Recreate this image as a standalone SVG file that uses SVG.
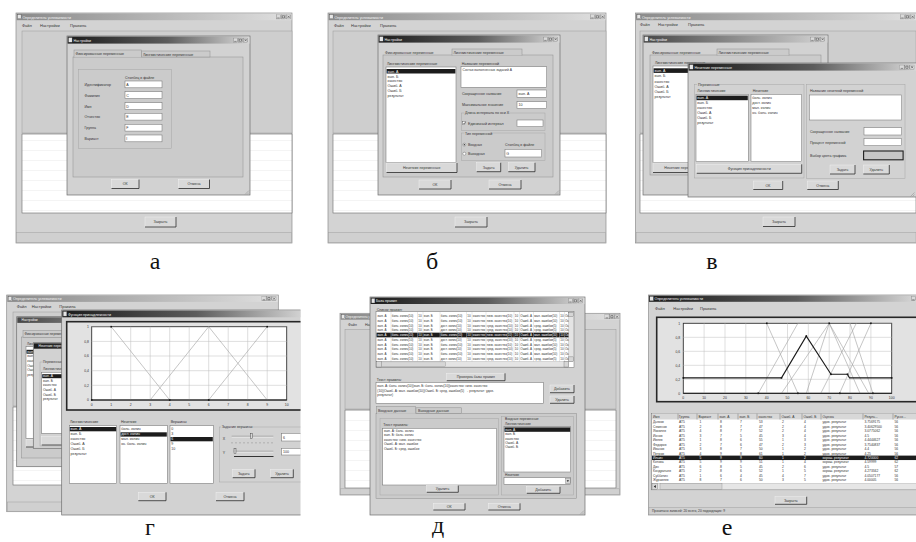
<svg xmlns="http://www.w3.org/2000/svg" width="916" height="542" viewBox="0 0 916 542">
<defs>
 <linearGradient id="gAct" x1="0" x2="1" y1="0" y2="0">
  <stop offset="0" stop-color="#1c1c1c"/><stop offset=".55" stop-color="#5c5c5c"/><stop offset="1" stop-color="#d8d8d8"/>
 </linearGradient>
 <linearGradient id="gIna" x1="0" x2="1" y1="0" y2="0">
  <stop offset="0" stop-color="#8a8a8a"/><stop offset="1" stop-color="#e0e0e0"/>
 </linearGradient>
 <linearGradient id="gMid" x1="0" x2="1" y1="0" y2="0">
  <stop offset="0" stop-color="#474747"/><stop offset="1" stop-color="#d4d4d4"/>
 </linearGradient>
 <pattern id="rows" width="10" height="10" patternUnits="userSpaceOnUse">
  <rect width="10" height="10" fill="#fff"/><path d="M0 .25H10" stroke="#e2e2e2" stroke-width=".5"/>
 </pattern>
 <!-- minimise / maximise / close caption buttons -->
 <symbol id="ctl" viewBox="0 0 15 5">
  <rect x=".2" y=".2" width="4.4" height="4.4" fill="#dadada" stroke="#555" stroke-width=".3"/>
  <rect x="5.2" y=".2" width="4.4" height="4.4" fill="#dadada" stroke="#555" stroke-width=".3"/>
  <rect x="10.4" y=".2" width="4.4" height="4.4" fill="#dadada" stroke="#555" stroke-width=".3"/>
  <path d="M1.2 3.6h2.4M6.3 1.3h2.2v2.2h-2.2zM11.5 1.3l2.2 2.2M13.7 1.3l-2.2 2.2" stroke="#222" stroke-width=".45" fill="none"/>
 </symbol>
 <clipPath id="clipG"><rect x="0" y="290" width="300.5" height="252"/></clipPath>
 <clipPath id="clipR"><rect x="376.5" y="312.2" width="192.3" height="49.3"/></clipPath>
 <clipPath id="clipE"><rect x="648" y="290" width="268" height="230"/></clipPath>
 <!-- one line of the rule list, fill comes from the <use> -->
 <g id="ruleA">
  <text style="fill:inherit;font-size:3px"><tspan x="377.5">вып. А</tspan><tspan x="391.8">боль. колич(10)</tspan><tspan x="418.3">10</tspan><tspan x="423.8">вып. Б</tspan><tspan x="440.8">боль. колич(10)</tspan><tspan x="467.3">10</tspan><tspan x="472.8">качество</tspan><tspan x="486.8">низк. качество(10)</tspan><tspan x="514.8">10</tspan><tspan x="520.3">Ошиб. А</tspan><tspan x="534.3">мал. ошибки(10)</tspan><tspan x="560.3">10</tspan><tspan x="565">Ошиб. Б</tspan></text>
 </g>
 <g id="ruleB">
  <text style="fill:inherit;font-size:3px"><tspan x="377.5">вып. А</tspan><tspan x="391.8">боль. колич(10)</tspan><tspan x="418.3">10</tspan><tspan x="423.8">вып. Б</tspan><tspan x="440.8">дост. колич(10)</tspan><tspan x="467.3">10</tspan><tspan x="472.8">качество</tspan><tspan x="486.8">сред. качество(10)</tspan><tspan x="514.8">10</tspan><tspan x="520.3">Ошиб. А</tspan><tspan x="534.3">сред. ошибки(5)</tspan><tspan x="560.3">10</tspan><tspan x="565">Ошиб. Б</tspan></text>
 </g>
</defs>
<style>
 text{font-family:"Liberation Sans",Arial,"DejaVu Sans",sans-serif;font-size:4px;fill:#333}
 .cap{font-family:"Liberation Serif","Times New Roman",serif;font-size:24px;fill:#111;text-anchor:middle}
 .w{fill:#f4f4f4}
 .s3{font-size:3.3px}
 .s35{font-size:3.6px}
 .mw{fill:#d3d3d3;stroke:#8c8c8c;stroke-width:.7}
 .dlg{fill:#d2d2d2;stroke:#6e6e6e;stroke-width:.7}
 .pg{fill:#cbcbcb;stroke:#8e8e8e;stroke-width:.5}
 .tabA{fill:#cbcbcb;stroke:#8e8e8e;stroke-width:.5}
 .ar{fill:#cecece;stroke:#9c9c9c;stroke-width:.5}
 .lst{fill:url(#rows);stroke:#6a6a6a;stroke-width:.6}
 .tb{fill:#fff;stroke:#777;stroke-width:.55}
 .grp{fill:none;stroke:#a6a6a6;stroke-width:.5}
 .sel{fill:#1c1c1c}
 .ico{fill:#e6e6e6;stroke:#444;stroke-width:.3}
 .bt rect{fill:#d9d9d9;stroke:#f0f0f0;stroke-width:.5}
 .bt path{fill:none;stroke:#262626;stroke-width:.8}
 .bt text{text-anchor:middle;font-size:3.6px}
 .st{fill:#d0d0d0;stroke:#a0a0a0;stroke-width:.5}
 .plot{fill:#fff;stroke:#333;stroke-width:.9}
 .frm{fill:#e2e2e2;stroke:#262626;stroke-width:1.6}
 .gl{stroke:#bdbdbd;stroke-width:.5;fill:none}
 .mf{stroke:#a0a0a0;stroke-width:.6;fill:none}
 .cell{stroke:#c4c4c4;stroke-width:.4}
 .grip{stroke:#8a8a8a;stroke-width:.5;fill:none}
 .ya{font-size:3.4px;text-anchor:end}
 .xa{font-size:3.4px;text-anchor:middle}
 .dot{fill:#111}
</style>
<rect width="916" height="542" fill="#fff"/>

<!-- ===================== а ===================== -->
<g id="fig-a">
 <g id="a-main">
  <rect class="mw" x="16" y="13" width="276" height="230"/>
  <rect x="16.6" y="13.6" width="274.8" height="6.6" fill="url(#gIna)"/>
  <rect class="ico" x="17.5" y="14.6" width="3.6" height="4.2"/>
  <text class="w s35" x="22.5" y="18.6">Определитель успеваемости</text>
  <use href="#ctl" x="276" y="14.4" width="15" height="5"/>
  <text x="22" y="26.8">Файл</text><text x="40" y="26.8">Настройки</text><text x="70" y="26.8">Правила</text>
  <rect class="ar" x="22" y="31" width="270" height="102"/>
  <rect class="lst" x="22" y="134" width="270" height="79"/>
  <g class="bt"><rect x="145" y="217" width="31" height="10"/><path d="M176 217V227H145"/><text x="160.5" y="223.3">Закрыть</text></g>
  <rect class="st" x="16.6" y="232.6" width="274.8" height="9.8"/>
 </g>
 <g id="a-settings">
  <rect class="dlg" x="67" y="36" width="183" height="159"/>
  <rect x="67.6" y="36.6" width="181.8" height="7" fill="url(#gAct)"/>
  <rect class="ico" x="68.5" y="37.6" width="3.6" height="4.6"/>
  <text class="w s35" x="73.5" y="41.6">Настройки</text>
  <use href="#ctl" x="233" y="37.8" width="15" height="5"/>
  <rect class="pg" x="73" y="57" width="170" height="120"/>
  <rect class="pg" x="141.5" y="51" width="68.5" height="6"/>
  <rect class="tabA" x="74" y="50" width="67.5" height="7.6"/>
  <path d="M74.3 57.1H141.2" stroke="#cbcbcb" stroke-width=".8"/>
  <text class="s35" x="75.5" y="55.2">Фиксированные переменные</text>
  <text class="s35" x="143" y="55.6">Лингвистические переменные</text>
  <rect class="grp" x="78.5" y="69.5" width="93" height="79"/>
  <text class="s35" x="125" y="79.4">Столбец в файле</text>
  <text class="s35" x="84.5" y="85.8">Идентификатор</text>
  <text class="s35" x="84.5" y="96.5">Фамилия</text>
  <text class="s35" x="84.5" y="107.5">Имя</text>
  <text class="s35" x="84.5" y="118.1">Отчество</text>
  <text class="s35" x="84.5" y="129.1">Группа</text>
  <text class="s35" x="84.5" y="139.8">Вариант</text>
  <rect class="tb" x="125" y="81" width="37" height="6.8"/>
  <rect class="tb" x="125" y="91.7" width="37" height="6.8"/>
  <rect class="tb" x="125" y="102.7" width="37" height="6.8"/>
  <rect class="tb" x="125" y="113.3" width="37" height="6.8"/>
  <rect class="tb" x="125" y="124.3" width="37" height="6.8"/>
  <rect class="tb" x="125" y="135" width="37" height="6.8"/>
  <text class="s35" x="126.3" y="85.8">A</text>
  <text class="s35" x="126.3" y="96.5">C</text>
  <text class="s35" x="126.3" y="107.5">D</text>
  <text class="s35" x="126.3" y="118.1">E</text>
  <text class="s35" x="126.3" y="129.1">F</text>
  <text class="s35" x="126.3" y="139.8">I</text>
  <g class="bt"><rect x="111.5" y="179.5" width="27.5" height="9"/><path d="M139 179.5V188.5H111.5"/><text x="125.2" y="185.3">ОК</text></g>
  <g class="bt"><rect x="178.5" y="179.5" width="31" height="9"/><path d="M209.5 179.5V188.5H178.5"/><text x="194" y="185.3">Отмена</text></g>
  <path class="grip" d="M249 190.5l-4 4M249 192.5l-2 2"/>
 </g>
</g>

<!-- ===================== б ===================== -->
<g id="fig-b">
 <g id="b-main">
  <rect class="mw" x="328" y="13" width="278" height="230"/>
  <rect x="328.6" y="13.6" width="276.8" height="6.6" fill="url(#gIna)"/>
  <rect class="ico" x="329.5" y="14.6" width="3.6" height="4.2"/>
  <text class="w s35" x="334.5" y="18.6">Определитель успеваемости</text>
  <use href="#ctl" x="590" y="14.4" width="15" height="5"/>
  <text x="334" y="26.8">Файл</text><text x="351" y="26.8">Настройки</text><text x="380" y="26.8">Правила</text>
  <rect class="ar" x="333" y="31" width="273" height="102"/>
  <rect class="lst" x="333" y="134" width="273" height="79"/>
  <g class="bt"><rect x="455" y="217" width="32" height="10"/><path d="M487 217V227H455"/><text x="471" y="223.3">Закрыть</text></g>
  <rect class="st" x="328.6" y="232.6" width="276.8" height="9.8"/>
 </g>
 <g id="b-settings">
  <rect class="dlg" x="378" y="35" width="182" height="160"/>
  <rect x="378.6" y="35.6" width="180.8" height="7" fill="url(#gAct)"/>
  <rect class="ico" x="379.5" y="36.6" width="3.6" height="4.6"/>
  <text class="w s35" x="384.5" y="40.6">Настройки</text>
  <use href="#ctl" x="543" y="36.8" width="15" height="5"/>
  <rect class="pg" x="383" y="55" width="170" height="122"/>
  <rect class="tabA" x="452" y="49" width="70" height="6.6"/>
  <path d="M452.3 55.1H521.7" stroke="#cbcbcb" stroke-width=".8"/>
  <text class="s35" x="385" y="54">Фиксированные переменные</text>
  <text class="s35" x="453.5" y="53.9">Лингвистические переменные</text>
  <text class="s35" x="387" y="64.6">Лингвистические переменные</text>
  <rect class="tb" x="386" y="67" width="70" height="95.5"/>
  <rect class="sel" x="386.6" y="69" width="68.8" height="4.5"/>
  <text class="s35" x="387.5" y="72.6"><tspan class="w">вып. А</tspan><tspan x="387.5" dy="4.9">вып. Б</tspan><tspan x="387.5" dy="4.9">качество</tspan><tspan x="387.5" dy="4.9">Ошиб. А</tspan><tspan x="387.5" dy="4.9">Ошиб. Б</tspan><tspan x="387.5" dy="4.9">результат</tspan></text>
  <g class="bt"><rect x="386.5" y="163" width="70.5" height="9.5"/><path d="M457 163V172.5H386.5"/><text x="421.7" y="169">Нечеткие переменные</text></g>
  <text class="s35" x="461.7" y="64.6">Название переменной</text>
  <rect class="tb" x="461" y="66.7" width="85.7" height="20.6"/>
  <text class="s3" x="462.5" y="71.3">Состав выполненных заданий А</text>
  <text class="s35" x="462" y="95.2">Сокращенное название</text>
  <rect class="tb" x="517" y="90" width="29.7" height="7.3"/>
  <text class="s35" x="518.5" y="95.2">вып. А</text>
  <text class="s35" x="462" y="106.4">Максимальное значение</text>
  <rect class="tb" x="517" y="101.7" width="29.7" height="6.8"/>
  <text class="s35" x="518.5" y="106.4">10</text>
  <rect class="grp" x="461.7" y="113" width="83.3" height="17.5"/>
  <rect x="464.5" y="111.5" width="42" height="3" fill="#cbcbcb"/>
  <text class="s35" x="465" y="114.4">Длина интервала по оси Х</text>
  <rect x="462.8" y="121.5" width="3" height="3" fill="#fff" stroke="#555" stroke-width=".4"/>
  <path d="M463.3 123l.9 1 1.3-2.2" stroke="#222" stroke-width=".5" fill="none"/>
  <text class="s35" x="468" y="124.7">Единичный интервал</text>
  <rect class="tb" x="517" y="120" width="26" height="6.7"/>
  <rect class="grp" x="461.7" y="133" width="83.3" height="27.5"/>
  <rect x="464.5" y="131.5" width="26" height="3" fill="#cbcbcb"/>
  <text class="s35" x="465" y="134.6">Тип переменной</text>
  <circle cx="464.3" cy="144.7" r="1.5" fill="#fff" stroke="#555" stroke-width=".4"/>
  <circle cx="464.3" cy="144.7" r=".7" fill="#222"/>
  <text class="s35" x="468" y="146">Входная</text>
  <circle cx="464.3" cy="153.7" r="1.5" fill="#fff" stroke="#555" stroke-width=".4"/>
  <text class="s35" x="468" y="155">Выходная</text>
  <text class="s35" x="505" y="146">Столбец в файле</text>
  <rect class="tb" x="505" y="149.3" width="36.7" height="7.7"/>
  <text class="s35" x="506.3" y="154.5">G</text>
  <g class="bt"><rect x="476.7" y="162.7" width="24" height="9"/><path d="M500.7 162.7V171.7H476.7"/><text x="488.7" y="168.5">Задать</text></g>
  <g class="bt"><rect x="508.3" y="162.7" width="26.7" height="9"/><path d="M535 162.7V171.7H508.3"/><text x="521.6" y="168.5">Удалить</text></g>
  <g class="bt"><rect x="419" y="180" width="32" height="9"/><path d="M451 180V189H419"/><text x="435" y="185.8">ОК</text></g>
  <g class="bt"><rect x="489" y="180" width="32" height="9"/><path d="M521 180V189H489"/><text x="505" y="185.8">Отмена</text></g>
  <path class="grip" d="M559 190.5l-4 4M559 192.5l-2 2"/>
 </g>
</g>

<!-- ===================== в ===================== -->
<g id="fig-c">
 <g id="c-main">
  <rect class="mw" x="635.5" y="13" width="281" height="230"/>
  <rect x="636.1" y="13.6" width="279.9" height="6.6" fill="url(#gIna)"/>
  <rect class="ico" x="637" y="14.6" width="3.6" height="4.2"/>
  <text class="w s35" x="642" y="18.6">Определитель успеваемости</text>
  <use href="#ctl" x="900" y="14.4" width="15" height="5"/>
  <text x="640" y="26">Файл</text><text x="658" y="26">Настройки</text><text x="688" y="26">Правила</text>
  <rect class="ar" x="640" y="31" width="276" height="102"/>
  <rect class="lst" x="640" y="134" width="276" height="79"/>
  <g class="bt"><rect x="763" y="217" width="32" height="9.5"/><path d="M795 217V226.5H763"/><text x="779" y="223">Закрыть</text></g>
  <rect class="st" x="636.1" y="232.6" width="279.9" height="9.8"/>
 </g>
 <g id="c-settings">
  <rect class="dlg" x="643" y="35" width="185" height="160"/>
  <rect x="643.6" y="35.6" width="183.8" height="7" fill="url(#gMid)"/>
  <rect class="ico" x="644.5" y="36.6" width="3.6" height="4.6"/>
  <text class="w s35" x="649.5" y="40.6">Настройки</text>
  <use href="#ctl" x="810" y="36.8" width="15" height="5"/>
  <rect class="pg" x="650" y="55" width="171" height="120"/>
  <rect class="tabA" x="717" y="49" width="72" height="6.6"/>
  <path d="M717.3 55.1H788.7" stroke="#cbcbcb" stroke-width=".8"/>
  <text class="s35" x="652" y="54">Фиксированные переменные</text>
  <text class="s35" x="718.5" y="53.9">Лингвистические переменные</text>
  <text class="s35" x="655" y="63.6">Лингвистические переменные</text>
  <rect class="tb" x="653" y="66" width="60" height="96.5"/>
  <rect class="sel" x="653.6" y="68.3" width="58" height="4.6"/>
  <text class="s35" x="654.5" y="71.9"><tspan class="w">вып. А</tspan><tspan x="654.5" dy="5.3">вып. Б</tspan><tspan x="654.5" dy="5.3">качество</tspan><tspan x="654.5" dy="5.3">Ошиб. А</tspan><tspan x="654.5" dy="5.3">Ошиб. Б</tspan><tspan x="654.5" dy="5.3">результат</tspan></text>
  <g class="bt"><rect x="653" y="163" width="60" height="9.5"/><path d="M713 163V172.5H653"/><text x="683" y="169">Нечеткие переменные</text></g>
 </g>
 <g id="c-fuzzy">
  <rect class="dlg" x="688" y="63" width="229" height="134"/>
  <rect x="688.6" y="63.6" width="227.4" height="7" fill="url(#gAct)"/>
  <rect class="ico" x="689.5" y="64.6" width="3.6" height="4.6"/>
  <text class="w s35" x="694.5" y="68.7">Нечеткие переменные</text>
  <use href="#ctl" x="899.5" y="64.8" width="15" height="5"/>
  <rect class="grp" x="694.5" y="84.5" width="109.5" height="93.5"/>
  <rect x="697" y="83" width="20" height="3" fill="#d2d2d2"/>
  <text class="s35" x="698" y="85.8">Переменные</text>
  <text class="s35" x="697.3" y="91.6">Лингвистические</text>
  <rect class="tb" x="696" y="94.3" width="52.3" height="67.4"/>
  <rect class="sel" x="696.5" y="95.6" width="51.3" height="4.6"/>
  <text class="s35" x="697.3" y="99.2"><tspan class="w">вып. А</tspan><tspan x="697.3" dy="4.9">вып. Б</tspan><tspan x="697.3" dy="4.9">качество</tspan><tspan x="697.3" dy="4.9">Ошиб. А</tspan><tspan x="697.3" dy="4.9">Ошиб. Б</tspan><tspan x="697.3" dy="4.9">результат</tspan></text>
  <text class="s35" x="752.7" y="91.6">Нечеткие</text>
  <rect class="tb" x="751" y="94.3" width="50.7" height="67.4"/>
  <text class="s35" x="752.3" y="99.2"><tspan>боль. колич</tspan><tspan x="752.3" dy="4.9">дост. колич</tspan><tspan x="752.3" dy="4.9">мал. колич</tspan><tspan x="752.3" dy="4.9">оч. боль. колич</tspan></text>
  <g class="bt"><rect x="696.7" y="164.3" width="105" height="9"/><path d="M801.7 164.3V173.3H696.7"/><text x="749.2" y="170">Функция принадлежности</text></g>
  <rect class="grp" x="806.7" y="84.5" width="98.3" height="93.8"/>
  <text class="s35" x="810" y="91.6">Название нечеткой переменной</text>
  <rect class="tb" x="809.3" y="95" width="92.4" height="25"/>
  <text class="s35" x="810" y="133">Сокращенное название</text>
  <rect class="tb" x="864" y="127.7" width="37.7" height="7.3"/>
  <text class="s35" x="810" y="144.3">Процент переменной</text>
  <rect class="tb" x="864" y="138.3" width="37.7" height="7.4"/>
  <text class="s35" x="810" y="156.5">Выбор цвета графика</text>
  <rect x="863.6" y="151" width="39.5" height="8.8" fill="#c6c6c6" stroke="#1e1e1e" stroke-width="1.1"/>
  <g class="bt"><rect x="830" y="165" width="25" height="9"/><path d="M855 165V174H830"/><text x="842.5" y="170.8">Задать</text></g>
  <g class="bt"><rect x="863.3" y="165" width="26" height="9"/><path d="M889.3 165V174H863.3"/><text x="876.3" y="170.8">Удалить</text></g>
  <g class="bt"><rect x="753.3" y="181" width="29.4" height="8.5"/><path d="M782.7 181V189.5H753.3"/><text x="768" y="186.6">ОК</text></g>
  <g class="bt"><rect x="807.3" y="181" width="31" height="8.5"/><path d="M838.3 181V189.5H807.3"/><text x="822.8" y="186.6">Отмена</text></g>
  <path class="grip" d="M914.5 192.5l-4 4M914.5 194.5l-2 2"/>
 </g>
</g>

<!-- ===================== г ===================== -->
<g id="fig-d">
 <g id="d-main">
  <rect class="mw" x="6.7" y="295" width="271.6" height="216.7"/>
  <rect x="7.3" y="295.6" width="270.4" height="6.3" fill="url(#gIna)"/>
  <rect class="ico" x="8.2" y="296.5" width="3.6" height="4.2"/>
  <text class="w s35" x="13" y="300.4">Определитель успеваемости</text>
  <use href="#ctl" x="261.5" y="296.2" width="15" height="5"/>
  <text x="16.7" y="308.3">Файл</text><text x="31.7" y="308.3">Настройки</text><text x="59.3" y="308.3">Правила</text>
  <rect class="ar" x="13" y="312" width="265" height="94"/>
  <rect class="lst" x="13" y="407" width="265" height="78"/>
  <rect class="st" x="7.3" y="502" width="270.4" height="9.2"/>
 </g>
 <g id="d-settings">
  <rect class="dlg" x="16.7" y="316.7" width="190" height="150"/>
  <rect x="17.3" y="317.3" width="188.8" height="5.6" fill="url(#gMid)"/>
  <text class="w s3" x="21.5" y="321.3">Настройки</text>
  <rect class="pg" x="21.7" y="337" width="180" height="121"/>
  <rect class="tabA" x="23" y="330.5" width="67" height="6.8"/>
  <text class="s3" x="24.5" y="335.4">Фиксированные переменные</text>
  <text class="s3" x="27" y="344.8">Лингвистические переменные</text>
  <rect class="tb" x="26" y="346.7" width="74" height="91.6"/>
  <rect class="sel" x="26.5" y="349.8" width="73" height="3.9"/>
  <text class="s3" x="27.2" y="352.8"><tspan class="w">вып. А</tspan><tspan x="27.2" dy="4.6">вып. Б</tspan><tspan x="27.2" dy="4.6">качество</tspan><tspan x="27.2" dy="4.6">Ошиб. А</tspan><tspan x="27.2" dy="4.6">Ошиб. Б</tspan><tspan x="27.2" dy="4.6">результат</tspan></text>
  <g class="bt"><rect x="26" y="439.5" width="74" height="7.5"/><path d="M100 439.5V447H26"/></g>
 </g>
 <g id="d-fuzzy">
  <rect class="dlg" x="33.3" y="342.7" width="200" height="105.6"/>
  <rect x="33.9" y="343.3" width="198.8" height="5.4" fill="url(#gAct)"/>
  <text class="w s3" x="38.5" y="347.4">Нечеткие переменные</text>
  <rect class="grp" x="40" y="362" width="110" height="84"/>
  <rect x="42.5" y="360.5" width="18" height="3" fill="#d2d2d2"/>
  <text class="s3" x="43" y="363.3">Переменные</text>
  <text class="s3" x="43" y="369.8">Лингвистические</text>
  <rect class="tb" x="41.7" y="372.3" width="53.3" height="61"/>
  <rect class="sel" x="42.2" y="374.2" width="52.3" height="4"/>
  <text class="s3" x="43" y="377.2"><tspan class="w">вып. А</tspan><tspan x="43" dy="4.6">вып. Б</tspan><tspan x="43" dy="4.6">качество</tspan><tspan x="43" dy="4.6">Ошиб. А</tspan><tspan x="43" dy="4.6">Ошиб. Б</tspan><tspan x="43" dy="4.6">результат</tspan></text>
  <g class="bt"><rect x="41.7" y="436.7" width="108" height="8.3"/><path d="M149.7 436.7V445H41.7"/></g>
 </g>
 <g id="d-membership" clip-path="url(#clipG)">
  <rect class="dlg" x="61.7" y="310" width="245" height="205"/>
  <rect x="62.3" y="310.6" width="244" height="6.7" fill="url(#gAct)"/>
  <rect class="ico" x="63.2" y="311.5" width="3.6" height="4.6"/>
  <text class="w s35" x="68" y="315.6">Функция принадлежности</text>
  <rect class="frm" x="66.7" y="321.7" width="240" height="88.3"/>
  <rect class="plot" x="91.7" y="326.7" width="195" height="73.3"/>
  <path class="gl" d="M111.2 326.7V400M130.7 326.7V400M150.2 326.7V400M169.7 326.7V400M189.2 326.7V400M208.7 326.7V400M228.2 326.7V400M247.7 326.7V400M267.2 326.7V400M91.7 341.4H286.7M91.7 356H286.7M91.7 370.7H286.7M91.7 385.3H286.7"/>
  <polyline class="mf" points="91.7,326.7 111.2,326.7 169.7,400"/>
  <polyline class="mf" points="150.2,400 208.7,326.7 267.2,400"/>
  <polyline class="mf" points="208.7,400 267.2,326.7 286.7,326.7"/>
  <path d="M91.7 400H286.7" stroke="#1e1e1e" stroke-width="1"/>
  <rect class="dot" x="110.4" y="325.9" width="1.6" height="1.6"/>
  <rect class="dot" x="266.4" y="325.9" width="1.6" height="1.6"/>
  <rect class="dot" x="168.9" y="399.2" width="1.6" height="1.6"/>
  <rect class="dot" x="207.9" y="399.2" width="1.6" height="1.6"/>
  <rect class="dot" x="90.9" y="399.2" width="1.6" height="1.6"/>
  <text class="ya" x="89" y="328">1</text>
  <text class="ya" x="89" y="342.6">0,8</text>
  <text class="ya" x="89" y="357.3">0,6</text>
  <text class="ya" x="89" y="371.9">0,4</text>
  <text class="ya" x="89" y="386.6">0,2</text>
  <text class="ya" x="89" y="401.2">0</text>
  <text class="xa" x="91.7" y="406">0</text><text class="xa" x="111.2" y="406">1</text><text class="xa" x="130.7" y="406">2</text><text class="xa" x="150.2" y="406">3</text><text class="xa" x="169.7" y="406">4</text><text class="xa" x="189.2" y="406">5</text><text class="xa" x="208.7" y="406">6</text><text class="xa" x="228.2" y="406">7</text><text class="xa" x="247.7" y="406">8</text><text class="xa" x="267.2" y="406">9</text><text class="xa" x="286.7" y="406">10</text>
  <text class="s35" x="70" y="423">Лингвистические</text>
  <rect class="tb" x="69.3" y="425.7" width="47.4" height="57.6"/>
  <rect class="sel" x="69.8" y="427" width="46.4" height="4.3"/>
  <text class="s35" x="70.5" y="430.3"><tspan class="w">вып. А</tspan><tspan x="70.5" dy="5">вып. Б</tspan><tspan x="70.5" dy="5">качество</tspan><tspan x="70.5" dy="5">Ошиб. А</tspan><tspan x="70.5" dy="5">Ошиб. Б</tspan><tspan x="70.5" dy="5">результат</tspan></text>
  <text class="s35" x="121" y="423">Нечеткие</text>
  <rect class="tb" x="120" y="425.7" width="47.3" height="57.6"/>
  <rect class="sel" x="120.5" y="432.3" width="46.3" height="4.3"/>
  <text class="s35" x="121.2" y="430.3"><tspan>боль. колич</tspan><tspan class="w" x="121.2" dy="5">дост. колич</tspan><tspan x="121.2" dy="5">мал. колич</tspan><tspan x="121.2" dy="5">оч. боль. колич</tspan></text>
  <text class="s35" x="170.7" y="423">Вершины</text>
  <rect class="tb" x="170" y="425.7" width="43.3" height="57.6"/>
  <rect class="sel" x="170.5" y="437" width="42.3" height="4.3"/>
  <text class="s35" x="171.3" y="430.3"><tspan>0</tspan><tspan x="171.3" dy="5">3</tspan><tspan class="w" x="171.3" dy="5">6</tspan><tspan x="171.3" dy="5">9</tspan><tspan x="171.3" dy="5">10</tspan></text>
  <rect class="grp" x="219.3" y="427" width="85" height="55"/>
  <rect x="221" y="425.5" width="30" height="3" fill="#d2d2d2"/>
  <text class="s35" x="221.7" y="428.4">Задание вершины</text>
  <text class="s35" x="222.7" y="439.6">X</text>
  <path d="M231.7 436.2H273.3" stroke="#777" stroke-width=".5"/><path d="M231.7 437.2H273.3" stroke="#fff" stroke-width=".5"/>
  <rect x="250.7" y="433.8" width="2" height="5" fill="#d8d8d8" stroke="#333" stroke-width=".4"/>
  <path d="M232 442v1.5M236 442v1.5M240 442v1.5M244 442v1.5M248 442v1.5M252 442v1.5M256 442v1.5M260 442v1.5M264 442v1.5M268 442v1.5M272 442v1.5" stroke="#555" stroke-width=".35"/>
  <rect class="tb" x="281.7" y="433.3" width="20" height="7.7"/>
  <text class="s35" x="283" y="438.7">6</text>
  <text class="s35" x="222.7" y="454">Y</text>
  <path d="M233.7 451.2H273.3" stroke="#777" stroke-width=".5"/><path d="M233.7 452.2H273.3" stroke="#fff" stroke-width=".5"/>
  <rect x="234" y="448.8" width="2" height="5" fill="#d8d8d8" stroke="#333" stroke-width=".4"/>
  <path d="M234 456.5H273.5" stroke="#333" stroke-width="1"/>
  <rect class="tb" x="281.7" y="448.3" width="20" height="6.7"/>
  <text class="s35" x="283" y="453.3">100</text>
  <g class="bt"><rect x="232.7" y="469.3" width="22.3" height="8.4"/><path d="M255 469.3V477.7H232.7"/><text x="243.8" y="474.7">Задать</text></g>
  <g class="bt"><rect x="270.7" y="469.3" width="22.6" height="8.4"/><path d="M293.3 469.3V477.7H270.7"/><text x="282" y="474.7">Удалить</text></g>
  <g class="bt"><rect x="138.3" y="492.3" width="27.7" height="8.4"/><path d="M166 492.3V500.7H138.3"/><text x="152.2" y="497.8">ОК</text></g>
  <g class="bt"><rect x="216" y="492.3" width="28" height="8.4"/><path d="M244 492.3V500.7H216"/><text x="230" y="497.8">Отмена</text></g>
 </g>
</g>

<!-- ===================== д ===================== -->
<g id="fig-e">
 <g id="e-main">
  <rect class="mw" x="340" y="313.3" width="280" height="181.7"/>
  <rect x="340.6" y="313.9" width="278.8" height="5.8" fill="url(#gIna)"/>
  <rect class="ico" x="341.4" y="314.6" width="3.4" height="4.2"/>
  <text class="w s3" x="345.5" y="318.3">Определитель успеваемости</text>
  <use href="#ctl" x="604.5" y="314.3" width="15" height="5"/>
  <text class="s35" x="348" y="325.8">Файл</text><text class="s35" x="365" y="325.8">Настройки</text>
  <rect class="ar" x="345" y="329.5" width="271" height="79.5"/>
  <rect class="lst" x="345" y="410" width="271" height="78"/>
  <rect class="st" x="340.6" y="488.8" width="278.8" height="5.6"/>
 </g>
 <g id="e-rules">
  <rect class="dlg" x="370" y="297" width="215" height="218"/>
  <rect x="370.6" y="297.6" width="213.8" height="6.4" fill="url(#gAct)"/>
  <rect class="ico" x="371.5" y="298.4" width="3.4" height="4.6"/>
  <text class="w s35" x="376" y="302.4">База правил</text>
  <use href="#ctl" x="568" y="298.4" width="15" height="5"/>
  <text class="s35" x="376.7" y="310.6">Список правил:</text>
  <rect class="tb" x="376" y="311.7" width="198" height="55.6"/>
  <rect class="sel" x="376.5" y="332.65" width="192.3" height="4.7"/>
  <path class="cell" d="M391 312V361.7M417.5 312V361.7M423 312V361.7M440 312V361.7M466.5 312V361.7M472 312V361.7M486 312V361.7M514 312V361.7M519.5 312V361.7M533.5 312V361.7M559.5 312V361.7M564.5 312V361.7"/>
  <g clip-path="url(#clipR)">
   <use href="#ruleA" y="317.3" fill="#333"/>
   <use href="#ruleA" y="322" fill="#333"/>
   <use href="#ruleB" y="326.7" fill="#333"/>
   <use href="#ruleB" y="331.4" fill="#333"/>
   <use href="#ruleA" y="336.1" fill="#fff"/>
   <use href="#ruleB" y="340.8" fill="#333"/>
   <use href="#ruleA" y="345.5" fill="#333"/>
   <use href="#ruleB" y="350.2" fill="#333"/>
   <use href="#ruleA" y="354.9" fill="#333"/>
   <use href="#ruleB" y="359.6" fill="#333"/>
  </g>
  <rect x="568.8" y="312.2" width="4.8" height="49.3" fill="#e4e4e4" stroke="#888" stroke-width=".3"/>
  <rect x="568.8" y="312.2" width="4.8" height="4.6" fill="#d6d6d6" stroke="#555" stroke-width=".3"/>
  <rect x="568.8" y="356.9" width="4.8" height="4.6" fill="#d6d6d6" stroke="#555" stroke-width=".3"/>
  <rect x="376.5" y="361.7" width="192.3" height="5.3" fill="#e4e4e4" stroke="#888" stroke-width=".3"/>
  <rect x="376.5" y="361.7" width="4.8" height="5.3" fill="#d6d6d6" stroke="#555" stroke-width=".3"/>
  <rect x="381.5" y="361.9" width="64" height="4.9" fill="#d6d6d6" stroke="#777" stroke-width=".3"/>
  <rect x="564" y="361.7" width="4.8" height="5.3" fill="#d6d6d6" stroke="#555" stroke-width=".3"/>
  <g class="bt"><rect x="446.7" y="373.3" width="58.3" height="7.4"/><path d="M505 373.3V380.7H446.7"/><text x="475.8" y="378.3">Проверка базы правил</text></g>
  <text class="s35" x="376.7" y="381">Текст правила:</text>
  <rect class="tb" x="376" y="382.5" width="167.3" height="20.8"/>
  <text class="s3" x="377.3" y="387.3"><tspan>вып. А: боль. колич(10)|вып. Б: боль. колич(10)|качество: низк. качество</tspan><tspan x="377.3" dy="4.3">(10)|Ошиб. А: мал. ошибки(10)|Ошиб. Б: сред. ошибки(5) → результат: удов.</tspan><tspan x="377.3" dy="4.3">результат)</tspan></text>
  <g class="bt"><rect x="550" y="385" width="24" height="7.7"/><path d="M574 385V392.7H550"/><text x="562" y="390.2">Добавить</text></g>
  <g class="bt"><rect x="550" y="396" width="24" height="7.3"/><path d="M574 396V403.3H550"/><text x="562" y="401">Удалить</text></g>
  <rect class="pg" x="376" y="413.3" width="200.7" height="85"/>
  <rect class="pg" x="416" y="407.8" width="45.7" height="5.5"/>
  <rect class="tabA" x="376.7" y="406.7" width="38.8" height="7"/>
  <path d="M377 413.4H415.2" stroke="#cbcbcb" stroke-width=".8"/>
  <text class="s35" x="378" y="411.7">Входные данные</text>
  <text class="s35" x="418" y="412.2">Выходные данные</text>
  <rect class="grp" x="380" y="418.3" width="118.3" height="76.7"/>
  <text class="s35" x="383.3" y="426.3">Текст правила:</text>
  <rect class="tb" x="382.7" y="428.3" width="114" height="56.7"/>
  <text class="s3" x="384" y="432"><tspan>вып. А: боль. колич</tspan><tspan x="384" dy="4.4">вып. Б: боль. колич</tspan><tspan x="384" dy="4.4">качество: низк. качество</tspan><tspan x="384" dy="4.4">Ошиб. А: мал. ошибки</tspan><tspan x="384" dy="4.4">Ошиб. Б: сред. ошибки</tspan></text>
  <g class="bt"><rect x="426.7" y="485.5" width="31.6" height="6.8"/><path d="M458.3 485.5V492.3H426.7"/><text x="442.5" y="490.2">Удалить</text></g>
  <rect class="grp" x="501.7" y="416.7" width="71.6" height="78.3"/>
  <text class="s3" x="505" y="420">Входные переменные</text>
  <text class="s3" x="505" y="424.8">Лингвистические</text>
  <rect class="tb" x="504" y="426.7" width="66.7" height="45.3"/>
  <rect class="sel" x="504.5" y="427.4" width="65.7" height="4.4"/>
  <text class="s3" x="505.3" y="430.7"><tspan class="w">вып. А</tspan><tspan x="505.3" dy="4.4">вып. Б</tspan><tspan x="505.3" dy="4.4">качество</tspan><tspan x="505.3" dy="4.4">Ошиб. А</tspan><tspan x="505.3" dy="4.4">Ошиб. Б</tspan></text>
  <text class="s3" x="505" y="476.3">Нечеткие</text>
  <rect class="tb" x="504" y="477.7" width="66.7" height="6.6"/>
  <rect x="565.5" y="478.2" width="4.7" height="5.6" fill="#d6d6d6" stroke="#555" stroke-width=".3"/>
  <path d="M566.7 480.3h2.3l-1.15 1.6z" fill="#222"/>
  <g class="bt"><rect x="526.7" y="486.7" width="33.3" height="6.6"/><path d="M560 486.7V493.3H526.7"/><text x="543.3" y="491.3">Добавить</text></g>
  <g class="bt"><rect x="433.3" y="503.3" width="31.7" height="6.7"/><path d="M465 503.3V510H433.3"/><text x="449.2" y="507.9">ОК</text></g>
  <g class="bt"><rect x="488.3" y="503.3" width="31.7" height="6.7"/><path d="M520 503.3V510H488.3"/><text x="504.2" y="507.9">Отмена</text></g>
  <path class="grip" d="M584 510.5l-4 4M584 512.5l-2 2"/>
 </g>
</g>

<!-- ===================== е ===================== -->
<g id="fig-f" clip-path="url(#clipE)">
 <g id="f-main">
  <rect class="mw" x="648.3" y="295" width="270" height="220"/>
  <rect x="648.9" y="295.6" width="268.8" height="6.2" fill="url(#gAct)"/>
  <rect class="ico" x="649.8" y="296.4" width="3.6" height="4.4"/>
  <text class="w s35" x="654.6" y="300.4">Определитель успеваемости</text>
  <use href="#ctl" x="911" y="296.2" width="15" height="5"/>
  <text x="655" y="309.8">Файл</text><text x="673.3" y="309.8">Настройки</text><text x="700" y="309.8">Правила</text>
 </g>
 <g id="f-chart">
  <rect class="frm" x="656.7" y="317.3" width="262" height="84.4"/>
  <rect class="plot" x="683.3" y="323.3" width="208.4" height="70"/>
  <path class="gl" d="M704.1 323.3V393.3M725 323.3V393.3M745.8 323.3V393.3M766.7 323.3V393.3M787.5 323.3V393.3M808.3 323.3V393.3M829.2 323.3V393.3M850 323.3V393.3M870.9 323.3V393.3M683.3 337.3H891.7M683.3 351.3H891.7M683.3 365.3H891.7M683.3 379.3H891.7"/>
  <g class="mf">
   <polyline points="766.7,323.3 797.9,393.3"/>
   <polyline points="758.3,393.3 797.9,323.3 829.2,323.3 868.7,393.3"/>
   <polyline points="781.5,393.3 829.2,323.3 860,393.3"/>
   <polyline points="806.3,393.3 829.2,323.3"/>
   <polyline points="839.6,393.3 870.9,323.3 891.7,323.3"/>
   <polyline points="820.8,393.3 856.3,323.3"/>
   <polyline points="872.9,393.3 850,323.3"/>
  </g>
  <polyline points="683.3,377.9 781.5,377.9 806.3,336.1 831,374.3 847.5,374.3 849.5,377.9 891.7,377.9" fill="none" stroke="#1a1a1a" stroke-width="1.1"/>
  <g class="dot">
   <rect x="682.5" y="377.1" width="1.6" height="1.6"/><rect x="780.7" y="377.1" width="1.6" height="1.6"/><rect x="805.5" y="335.3" width="1.6" height="1.6"/><rect x="830.2" y="373.5" width="1.6" height="1.6"/><rect x="846.7" y="373.5" width="1.6" height="1.6"/><rect x="890.9" y="377.1" width="1.6" height="1.6"/>
   <rect x="766" y="322.5" width="1.6" height="1.6"/><rect x="828.4" y="322.5" width="1.6" height="1.6"/><rect x="870.1" y="322.5" width="1.6" height="1.6"/>
   <rect x="757.5" y="392.5" width="1.6" height="1.6"/><rect x="797.1" y="392.5" width="1.6" height="1.6"/><rect x="839" y="392.5" width="1.6" height="1.6"/><rect x="872.1" y="392.5" width="1.6" height="1.6"/>
  </g>
  <path d="M683.3 393.3H891.7" stroke="#1e1e1e" stroke-width="1"/>
  <text class="ya" x="680.2" y="324.6">1</text>
  <text class="ya" x="680.2" y="338.6">0,8</text>
  <text class="ya" x="680.2" y="352.6">0,6</text>
  <text class="ya" x="680.2" y="366.6">0,4</text>
  <text class="ya" x="680.2" y="380.6">0,2</text>
  <text class="ya" x="680.2" y="394.6">0</text>
  <text class="xa" x="683.3" y="398.8">0</text><text class="xa" x="704.1" y="398.8">10</text><text class="xa" x="725" y="398.8">20</text><text class="xa" x="745.8" y="398.8">30</text><text class="xa" x="766.7" y="398.8">40</text><text class="xa" x="787.5" y="398.8">50</text><text class="xa" x="808.3" y="398.8">60</text><text class="xa" x="829.2" y="398.8">70</text><text class="xa" x="850" y="398.8">80</text><text class="xa" x="870.9" y="398.8">90</text><text class="xa" x="891.7" y="398.8">100</text>
 </g>
 <g id="f-table">
  <rect class="tb" x="651.7" y="413.3" width="267" height="76.5"/>
  <rect x="652" y="413.6" width="266" height="5.9" fill="#d8d8d8"/>
  <path d="M678 413.6V419.5M697 413.6V419.5M718 413.6V419.5M738 413.6V419.5M757 413.6V419.5M780 413.6V419.5M802 413.6V419.5M821 413.6V419.5M863 413.6V419.5M893 413.6V419.5" stroke="#777" stroke-width=".5"/>
  <text class="s3" y="418"><tspan x="653">Имя</tspan><tspan x="679">Группа</tspan><tspan x="698.5">Вариант</tspan><tspan x="719.5">вып. А</tspan><tspan x="739.5">вып. Б</tspan><tspan x="758.5">качество</tspan><tspan x="781.5">Ошиб. А</tspan><tspan x="803.5">Ошиб. Б</tspan><tspan x="822.5">Оценка</tspan><tspan x="864.5">Резуль...</tspan><tspan x="894.5">Русск...</tspan></text>
  <rect class="sel" x="652" y="455.6" width="266" height="4.45"/>
  <g>
   <text class="s3" y="423.4"><tspan x="653">Дьяков</tspan><tspan x="679">АТ5</tspan><tspan x="699.5">1</tspan><tspan x="720">8</tspan><tspan x="740">7</tspan><tspan x="759">53</tspan><tspan x="782">2</tspan><tspan x="804">4</tspan><tspan x="822.5">удов. результат</tspan><tspan x="864.5">3.7569175</tspan><tspan x="894.5">56</tspan></text>
   <text class="s3" y="427.85"><tspan x="653">Семенов</tspan><tspan x="679">АТ5</tspan><tspan x="699.5">2</tspan><tspan x="720">8</tspan><tspan x="740">7</tspan><tspan x="759">47</tspan><tspan x="782">2</tspan><tspan x="804">4</tspan><tspan x="822.5">удов. результат</tspan><tspan x="864.5">3.40629500</tspan><tspan x="894.5">56</tspan></text>
   <text class="s3" y="432.3"><tspan x="653">Яковлев</tspan><tspan x="679">АТ5</tspan><tspan x="699.5">4</tspan><tspan x="720">8</tspan><tspan x="740">7</tspan><tspan x="759">52</tspan><tspan x="782">2</tspan><tspan x="804">4</tspan><tspan x="822.5">удов. результат</tspan><tspan x="864.5">3.0775062</tspan><tspan x="894.5">56</tspan></text>
   <text class="s3" y="436.75"><tspan x="653">Ионов</tspan><tspan x="679">АТ5</tspan><tspan x="699.5">3</tspan><tspan x="720">7</tspan><tspan x="740">5</tspan><tspan x="759">45</tspan><tspan x="782">3</tspan><tspan x="804">4</tspan><tspan x="822.5">удов. результат</tspan><tspan x="864.5">4.5</tspan><tspan x="894.5">56</tspan></text>
   <text class="s3" y="441.2"><tspan x="653">Ивлев</tspan><tspan x="679">АТ5</tspan><tspan x="699.5">1</tspan><tspan x="720">8</tspan><tspan x="740">6</tspan><tspan x="759">55</tspan><tspan x="782">1</tspan><tspan x="804">3</tspan><tspan x="822.5">удов. результат</tspan><tspan x="864.5">4.4444627</tspan><tspan x="894.5">56</tspan></text>
   <text class="s3" y="445.65"><tspan x="653">Федоров</tspan><tspan x="679">АТ5</tspan><tspan x="699.5">2</tspan><tspan x="720">7</tspan><tspan x="740">6</tspan><tspan x="759">47</tspan><tspan x="782">2</tspan><tspan x="804">3</tspan><tspan x="822.5">удов. результат</tspan><tspan x="864.5">3.7540837</tspan><tspan x="894.5">56</tspan></text>
   <text class="s3" y="450.1"><tspan x="653">Иванов</tspan><tspan x="679">АТ5</tspan><tspan x="699.5">3</tspan><tspan x="720">8</tspan><tspan x="740">7</tspan><tspan x="759">50</tspan><tspan x="782">1</tspan><tspan x="804">2</tspan><tspan x="822.5">удов. результат</tspan><tspan x="864.5">4.4</tspan><tspan x="894.5">56</tspan></text>
   <text class="s3" y="454.55"><tspan x="653">Петров</tspan><tspan x="679">АТ5</tspan><tspan x="699.5">4</tspan><tspan x="720">9</tspan><tspan x="740">8</tspan><tspan x="759">61</tspan><tspan x="782">1</tspan><tspan x="804">2</tspan><tspan x="822.5">удов. результат</tspan><tspan x="864.5">4.25</tspan><tspan x="894.5">56</tspan></text>
   <text class="s3 w" y="459"><tspan x="653">Ильин</tspan><tspan x="679">АТ5</tspan><tspan x="699.5">5</tspan><tspan x="720">9</tspan><tspan x="740">9</tspan><tspan x="759">60</tspan><tspan x="782">1</tspan><tspan x="804">2</tspan><tspan x="822.5">хорош. результат</tspan><tspan x="864.5">4.720000</tspan><tspan x="894.5">62</tspan></text>
   <text class="s3" y="463.45"><tspan x="653">Котова</tspan><tspan x="679">АТ5</tspan><tspan x="699.5">5</tspan><tspan x="720">9</tspan><tspan x="740">9</tspan><tspan x="759">51</tspan><tspan x="782">1</tspan><tspan x="804">4</tspan><tspan x="822.5">хорош. результат</tspan><tspan x="864.5">4.59999</tspan><tspan x="894.5">62</tspan></text>
   <text class="s3" y="467.9"><tspan x="653">Дин</tspan><tspan x="679">АТ5</tspan><tspan x="699.5">6</tspan><tspan x="720">8</tspan><tspan x="740">5</tspan><tspan x="759">45</tspan><tspan x="782">2</tspan><tspan x="804">6</tspan><tspan x="822.5">удов. результат</tspan><tspan x="864.5">4.5</tspan><tspan x="894.5">57</tspan></text>
   <text class="s3" y="472.35"><tspan x="653">Кондратьев</tspan><tspan x="679">АТ5</tspan><tspan x="699.5">2</tspan><tspan x="720">8</tspan><tspan x="740">6</tspan><tspan x="759">52</tspan><tspan x="782">1</tspan><tspan x="804">5</tspan><tspan x="822.5">хорош. результат</tspan><tspan x="864.5">4.273342</tspan><tspan x="894.5">62</tspan></text>
   <text class="s3" y="476.8"><tspan x="653">Субботин</tspan><tspan x="679">АТ5</tspan><tspan x="699.5">1</tspan><tspan x="720">6</tspan><tspan x="740">4</tspan><tspan x="759">45</tspan><tspan x="782">4</tspan><tspan x="804">7</tspan><tspan x="822.5">удов. результат</tspan><tspan x="864.5">4.0507177</tspan><tspan x="894.5">56</tspan></text>
   <text class="s3" y="481.25"><tspan x="653">Журавлев</tspan><tspan x="679">АТ5</tspan><tspan x="699.5">8</tspan><tspan x="720">7</tspan><tspan x="740">6</tspan><tspan x="759">50</tspan><tspan x="782">3</tspan><tspan x="804">5</tspan><tspan x="822.5">удов. результат</tspan><tspan x="864.5">4.00005</tspan><tspan x="894.5">56</tspan></text>
  </g>
  <rect x="652" y="483.5" width="266" height="6" fill="#e6e6e6" stroke="#888" stroke-width=".3"/>
  <rect x="652" y="483.5" width="5.5" height="6" fill="#d6d6d6" stroke="#555" stroke-width=".3"/>
  <rect x="660" y="483.8" width="62" height="5.4" fill="#d6d6d6" stroke="#777" stroke-width=".3"/>
  <path d="M655.8 484.9v3.2l-2 -1.6z" fill="#222"/>
  <g class="bt"><rect x="775" y="496.7" width="31.7" height="7.6"/><path d="M806.7 496.7V504.3H775"/><text x="790.8" y="501.7">Закрыть</text></g>
  <rect class="st" x="648.9" y="507.5" width="268" height="7"/>
  <text class="s3" x="652" y="512.3">Прочитано записей: 20 всего, 20 подходящих: 9</text>
 </g>
</g>

<!-- panel letters -->
<text class="cap" x="155" y="269">а</text>
<text class="cap" x="432" y="269">б</text>
<text class="cap" x="712" y="269">в</text>
<text class="cap" x="150" y="535">г</text>
<text class="cap" x="438" y="533">д</text>
<text class="cap" x="727" y="535">е</text>
</svg>
